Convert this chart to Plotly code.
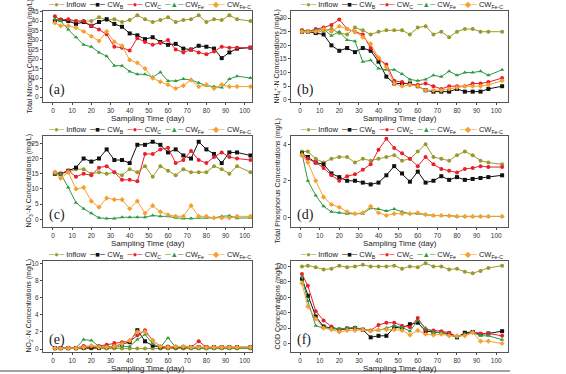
import plotly.graph_objects as go

days = [1, 4, 8, 12, 16, 20, 24, 28, 32, 36, 40, 44, 48, 52, 56, 60, 64, 68, 72, 76, 80, 84, 88, 92, 96, 103]
series_names = ["Inflow", "CW<sub>B</sub>", "CW<sub>C</sub>", "CW<sub>Fe</sub>", "CW<sub>Fe-C</sub>"]

# (a) Total nitrogen
tn_inflow = [40.5, 41, 40, 40, 40, 40, 42, 40.5, 41, 39.5, 40.5, 43, 41, 39.5, 40.5, 42, 39.5, 40.5, 41, 43, 39.5, 41, 40.5, 43, 41, 40]
tn_cwb = [40, 40.5, 40, 38.5, 39.5, 37.5, 39.5, 41, 38.5, 37, 33.5, 32.5, 30.5, 31.5, 29, 27.5, 28, 25.5, 25, 27, 26.5, 25.5, 20.5, 23.5, 25.5, 26]
tn_cwc = [42.5, 40.5, 41, 40, 40, 37.5, 35.5, 33, 26.5, 26, 24.5, 31, 29, 27.5, 28.5, 30, 25, 23.5, 25, 23.5, 22.5, 24, 26.5, 26, 26, 26]
tn_cwfe = [41, 40, 35.5, 31.5, 27.5, 26.5, 23.5, 21.5, 16.5, 16.5, 13.5, 12, 12, 10.5, 13, 8.5, 8.5, 9.5, 9, 7.5, 6, 5.5, 5, 9.5, 11, 10]
tn_cwfec = [39, 37.5, 37.5, 36.5, 34.5, 32, 29.5, 34.5, 29, 27, 19.5, 18, 15, 10, 8, 6.5, 4.5, 6, 9, 5.5, 6.5, 4.5, 6.5, 5.5, 5.5, 5.5]

# (b) NH4+-N
nh_inflow = [25.5, 25, 24.5, 25.5, 26, 24.5, 24, 26.5, 25.5, 24, 25, 25.5, 25.5, 25.5, 24, 26.5, 27, 24, 25, 23, 25, 26, 26, 25, 25, 25]
nh_cwb = [25, 25, 24.5, 24, 20, 18, 19, 17.5, 19, 18, 14, 8.5, 6, 6, 6, 5, 3.5, 3, 3, 3, 4, 3, 3, 3, 4, 5]
nh_cwc = [25.5, 25, 26, 26.5, 27.5, 29.5, 26, 25, 24, 19, 15, 13, 7, 6.5, 5.5, 5.5, 6, 5, 4, 5, 5, 5, 6, 6, 6.5, 8]
nh_cwfe = [25.5, 25, 25.5, 26, 23.5, 25, 22, 21.5, 14, 14.5, 11.5, 11, 11, 9.5, 7.5, 7, 7.5, 9, 8.5, 10.5, 9, 10, 10, 10.5, 9, 11]
nh_cwfec = [25, 25, 25, 26, 25, 27, 26, 25, 23, 20.5, 15.5, 12, 6, 5, 5.5, 5, 3.5, 3.5, 3.5, 4, 4.5, 5, 5, 5, 5.5, 7]

# (c) NO3--N
no3_inflow = [15, 15, 15.5, 16.5, 16.5, 15, 15.5, 15, 15.5, 14.5, 16.5, 15.5, 17.5, 14, 17.5, 16, 14.5, 16.5, 15.5, 15.5, 15.5, 17.5, 16.5, 15, 17.5, 15.5]
no3_cwb = [15, 15, 16, 17, 20, 19, 20, 23, 19.5, 19.5, 18.5, 24.5, 24.5, 25.5, 24.5, 22, 23, 21, 20, 25.5, 23, 21.5, 18.5, 22, 22, 21]
no3_cwc = [15.5, 15, 16, 14, 15, 14.5, 17, 17.5, 15.5, 13, 13, 12.5, 21.5, 21.5, 23, 23.5, 18.5, 19.5, 22.5, 19.5, 18.5, 20.5, 22, 20.5, 20, 19.5]
no3_cwfe = [15, 15, 10.5, 5.5, 3.5, 2, 0.5, 0.3, 0.3, 0.7, 0.7, 0.7, 0.7, 1.3, 1, 1, 0.5, 0.3, 0.3, 0.5, 0.5, 0.5, 1, 1.2, 0.4, 0.5]
no3_cwfec = [15.5, 13.5, 15.5, 10, 10.5, 6, 4, 7, 6.5, 6.5, 3.5, 6, 2, 4.5, 2.5, 1.5, 1, 1, 4.5, 1, 1, 0.5, 0.5, 0.5, 1, 1]

# (d) Total phosphorus
tp_inflow = [3.6, 3.6, 3.2, 3.0, 3.2, 3.3, 3.3, 3.0, 3.2, 3.1, 3.2, 3.3, 3.4, 3.1, 3.2, 3.6, 4.0, 3.3, 3.2, 3.1, 3.4, 3.6, 3.4, 3.1, 3.0, 2.9]
tp_cwb = [3.5, 3.3, 3.0, 2.9, 2.4, 2.2, 2.0, 2.0, 1.9, 1.8, 1.9, 2.3, 2.8, 2.4, 1.95, 2.5, 1.9, 2.0, 2.25, 2.05, 2.2, 2.05, 2.1, 2.15, 2.2, 2.3]
tp_cwc = [3.4, 3.2, 3.0, 2.7, 2.3, 2.0, 2.25, 2.35, 2.6, 2.9, 3.7, 4.3, 3.8, 3.5, 3.2, 2.8, 3.3, 2.9, 2.65, 2.55, 2.45, 2.65, 2.7, 2.8, 2.75, 2.75]
tp_cwfe = [3.5, 2.0, 1.2, 0.6, 0.3, 0.25, 0.2, 0.2, 0.2, 0.5, 0.45, 0.35, 0.45, 0.3, 0.2, 0.2, 0.15, 0.1, 0.1, 0.1, 0.05, 0.05, 0.05, 0.05, 0.05, 0.05]
tp_cwfec = [3.4, 3.0, 2.0, 1.1, 0.7, 0.55, 0.3, 0.2, 0.25, 0.6, 0.25, 0.1, 0.2, 0.2, 0.2, 0.25, 0.15, 0.1, 0.1, 0.08, 0.05, 0.05, 0.05, 0.05, 0.05, 0.05]

# (e) NO2--N
no2_inflow = [0.05, 0.05, 0.05, 0.05, 0.05, 0.05, 0.05, 0.05, 0.05, 0.05, 0.05, 0.05, 0.05, 0.05, 0.05, 0.05, 0.05, 0.05, 0.05, 0.05, 0.05, 0.05, 0.05, 0.05, 0.05, 0.05]
no2_cwb = [0.1, 0.1, 0.1, 0.1, 0.15, 0.15, 0.15, 0.2, 0.3, 0.6, 0.8, 2.2, 0.9, 0.4, 0.2, 0.2, 0.2, 0.2, 0.2, 0.2, 0.2, 0.2, 0.2, 0.2, 0.2, 0.2]
no2_cwc = [0.1, 0.1, 0.15, 0.1, 0.35, 0.3, 0.35, 0.5, 0.7, 0.8, 0.9, 1.6, 2.2, 1.0, 0.3, 0.3, 0.2, 0.2, 0.2, 0.9, 0.2, 0.2, 0.2, 0.2, 0.2, 0.2]
no2_cwfe = [0.1, 0.1, 0.1, 0.1, 1.1, 1.0, 0.3, 0.2, 0.2, 0.3, 0.3, 1.1, 1.7, 0.6, 0.2, 1.3, 0.2, 0.2, 0.1, 0.1, 0.1, 0.1, 0.1, 0.1, 0.1, 0.1]
no2_cwfec = [0.1, 0.1, 0.1, 0.1, 0.2, 0.4, 0.2, 0.2, 0.3, 0.6, 1.0, 2.0, 2.0, 1.0, 0.3, 0.2, 0.3, 0.3, 0.2, 0.2, 0.2, 0.2, 0.2, 0.2, 0.2, 0.2]

# (f) COD
cod_inflow = [100, 101, 99, 96, 97, 101, 99, 100, 102, 100, 100, 100, 101, 97, 100, 99, 104, 100, 100, 96, 97, 93, 91, 94, 98, 101]
cod_cwb = [84, 62, 35, 22, 20, 18, 19, 20, 18, 8, 10, 10, 21, 20, 25, 27, 16, 15, 14, 13, 8, 14, 15, 12, 13, 16]
cod_cwc = [90, 75, 42, 30, 22, 18, 20, 20, 18, 17, 24, 27, 27, 23, 21, 33, 18, 17, 16, 14, 9, 12, 15, 13, 13, 10]
cod_cwfe = [86, 55, 23, 20, 20, 19, 20, 21, 18, 17, 17, 20, 23, 21, 16, 30, 20, 15, 14, 11, 8, 12, 14, 10, 10, 5]
cod_cwfec = [78, 48, 32, 20, 18, 15, 17, 17, 18, 16, 18, 18, 18, 17, 11, 17, 12, 11, 12, 10, 10, 10, 14, 3, 3, 0]

x_title = "Sampling Time (day)"
x_tick_vals = [0, 10, 20, 30, 40, 50, 60, 70, 80, 90, 100]

panels = [
    ([tn_inflow, tn_cwb, tn_cwc, tn_cwfe, tn_cwfec], "Total Nitrogen Concentrations (mg/L)", [-2.6, 45.3], 5, "(a)"),
    ([nh_inflow, nh_cwb, nh_cwc, nh_cwfe, nh_cwfec], "NH<sub>4</sub><sup>+</sup>-N Concentrations (mg/L)", [-0.8, 32.6], 5, "(b)"),
    ([no3_inflow, no3_cwb, no3_cwc, no3_cwfe, no3_cwfec], "NO<sub>3</sub><sup>-</sup>-N Concentrations (mg/L)", [-2.5, 27.4], 5, "(c)"),
    ([tp_inflow, tp_cwb, tp_cwc, tp_cwfe, tp_cwfec], "Total Phosphorus Concentrations (mg/L)", [-0.53, 4.45], 2, "(d)"),
    ([no2_inflow, no2_cwb, no2_cwc, no2_cwfe, no2_cwfec], "NO<sub>2</sub><sup>-</sup>-N Concentrations (mg/L)", [-0.35, 10.3], 2, "(e)"),
    ([cod_inflow, cod_cwb, cod_cwc, cod_cwfe, cod_cwfec], "COD Concentrations (mg/L)", [-11, 107], 20, "(f)"),
]

colors = ["#9a9a2c", "#111111", "#e8202a", "#2e9a44", "#f5a030"]
symbols = ["circle", "square", "circle", "triangle-up", "diamond"]
legend_glyphs = ["●", "■", "●", "▲", "◆"]

W, H = 566, 374
col_x = [(43, 252), (291, 508)]
row_y = [(11, 102), (136, 227), (261, 352)]
x_ranges = [[-5.2, 103.8], [-4.6, 106]]
ytitle_x = [29, 277]

fig = go.Figure()
font_main = "Liberation Sans, Arial, sans-serif"

for i, (data, ytitle, yrange, dtick, label) in enumerate(panels):
    r, c = divmod(i, 2)
    n = i + 1
    xa = "x" if n == 1 else f"x{n}"
    ya = "y" if n == 1 else f"y{n}"
    for k in range(5):
        fig.add_trace(go.Scatter(
            x=days, y=data[k], xaxis=xa, yaxis=ya, mode="lines+markers",
            name=series_names[k], showlegend=False, cliponaxis=False,
            line=dict(color=colors[k], width=1),
            marker=dict(symbol=symbols[k], size=4, color=colors[k]),
        ))
    x0, x1 = col_x[c]
    y0, y1 = row_y[r]
    xkey = "xaxis" if n == 1 else f"xaxis{n}"
    ykey = "yaxis" if n == 1 else f"yaxis{n}"
    fig.update_layout(**{
        xkey: dict(domain=[x0 / W, x1 / W], anchor=ya, range=x_ranges[c],
                   tickvals=x_tick_vals, ticks="outside", ticklen=2,
                   ticklabelstandoff=0,
                   showline=True, mirror=True, linecolor="#555", linewidth=1,
                   showgrid=False, zeroline=False, automargin=False,
                   tickfont=dict(size=6.5, color="#333", family=font_main)),
        ykey: dict(domain=[1 - y1 / H, 1 - y0 / H], anchor=xa, range=yrange,
                   dtick=dtick, tick0=0, ticks="outside", ticklen=2,
                   showline=True, mirror=True, linecolor="#555", linewidth=1,
                   showgrid=False, zeroline=False, automargin=False,
                   tickfont=dict(size=6.5, color="#333", family=font_main)),
    })
    # x axis title
    fig.add_annotation(text=x_title, xref="paper", yref="paper",
                       x=((x0 + x1) / 2) / W, y=1 - (y1 + 16.5) / H,
                       xanchor="center", yanchor="middle", showarrow=False,
                       font=dict(size=8, color="#222", family=font_main))
    # y axis title
    fig.add_annotation(text=ytitle, xref="paper", yref="paper",
                       x=ytitle_x[c] / W, y=1 - ((y0 + y1) / 2) / H, textangle=-90,
                       xanchor="center", yanchor="middle", showarrow=False,
                       font=dict(size=7, color="#222", family=font_main))
    # panel label
    fig.add_annotation(text=label, xref=f"{xa} domain", yref=f"{ya} domain",
                       x=0.02, y=0.02, xanchor="left", yanchor="bottom", showarrow=False,
                       font=dict(size=14, color="#222", family="Liberation Serif, Times New Roman, serif"))
    # legend row
    parts = []
    for k in range(5):
        parts.append(f'<span style="color:{colors[k]}">─{legend_glyphs[k]}─</span> {series_names[k]}')
    fig.add_annotation(text="  ".join(parts), xref="paper", yref="paper",
                       x=((x0 + x1) / 2 + 2) / W, y=1 - (y0 - 6) / H,
                       xanchor="center", yanchor="middle", showarrow=False,
                       font=dict(size=7.5, color="#222", family=font_main))

fig.add_shape(type="line", xref="paper", yref="paper", x0=0, x1=510 / W,
              y0=1 - 371 / H, y1=1 - 371 / H, line=dict(color="#444", width=1))

fig.update_layout(width=W, height=H, margin=dict(l=0, r=0, t=0, b=0),
                  plot_bgcolor="white", paper_bgcolor="white", showlegend=False)

fig.write_html("out.html", config={"displayModeBar": False},
               post_script="document.body.style.margin='0';document.body.style.padding='0';document.body.style.overflow='hidden';")
